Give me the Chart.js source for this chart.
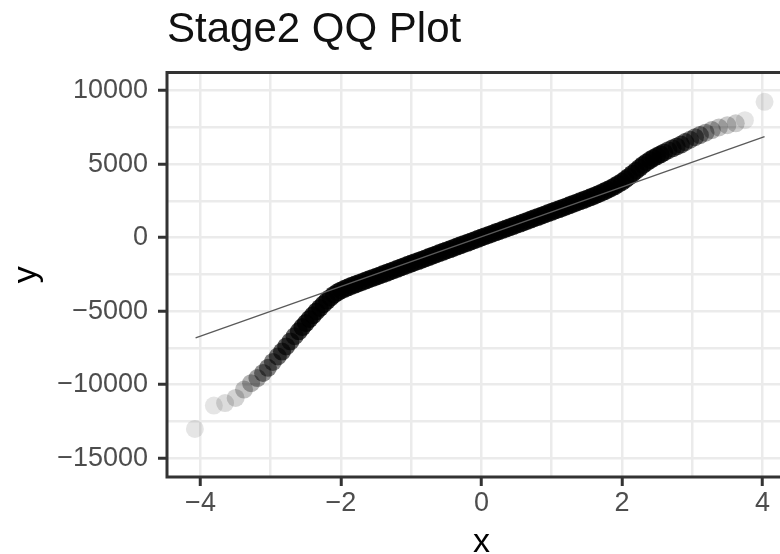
<!DOCTYPE html>
<html>
<head>
<meta charset="utf-8">
<title>Stage2 QQ Plot</title>
<script src="https://cdn.jsdelivr.net/npm/chart.js@4.4.1/dist/chart.umd.min.js"></script>
<style>
  body { margin: 0; background: #fff; }
  #wrap { width: 780px; height: 554px; overflow: hidden; }
</style>
</head>
<body>
<div id="wrap"><canvas id="qqChart" width="780" height="554"></canvas></div>
<script>
// theoretical quantiles (x) and sample quantiles (y), sorted
const theoretical = [
  -4.08, -3.81, -3.65, -3.50, -3.38, -3.28, -3.19, -3.11, -3.04, -2.97,
  -2.90, -2.84, -2.78, -2.72, -2.66, -2.60, -2.55, -2.50, -2.45, -2.40, -2.35,
  -2.30, -2.25, -2.20, -2.15, -2.10, -2.05, -2.00, -1.95, -1.90, -1.85,
  -1.80, -1.75, -1.70, -1.65, -1.60, -1.55, -1.50, -1.45, -1.40, -1.35,
  -1.30, -1.25, -1.20, -1.15, -1.10, -1.05, -1.00, -0.95, -0.90, -0.85,
  -0.80, -0.75, -0.70, -0.65, -0.60, -0.55, -0.50, -0.45, -0.40, -0.35,
  -0.30, -0.25, -0.20, -0.15, -0.10, -0.05, 0.00, 0.05, 0.10, 0.15,
  0.20, 0.25, 0.30, 0.35, 0.40, 0.45, 0.50, 0.55, 0.60, 0.65,
  0.70, 0.75, 0.80, 0.85, 0.90, 0.95, 1.00, 1.05, 1.10, 1.15,
  1.20, 1.25, 1.30, 1.35, 1.40, 1.45, 1.50, 1.55, 1.60, 1.65,
  1.70, 1.75, 1.80, 1.85, 1.90, 1.95, 2.00, 2.05, 2.10, 2.15,
  2.20, 2.25, 2.30,
  2.35, 2.40, 2.45, 2.50, 2.55, 2.60, 2.66, 2.72, 2.78, 2.84,
  2.90, 2.97, 3.04, 3.11, 3.19, 3.28, 3.38, 3.50, 3.62, 3.75, 4.03
];
const sample = [
  -13010, -11420, -11250, -10900, -10330, -9900, -9550, -9200, -8850, -8450,
  -8080, -7750, -7400, -7060, -6700, -6370, -6080, -5810, -5540, -5280, -5020,
  -4780, -4530, -4300, -4080, -3880, -3720, -3590, -3480, -3380, -3280,
  -3190, -3100, -3010, -2920, -2830, -2740, -2660, -2570, -2480, -2390,
  -2300, -2210, -2120, -2030, -1940, -1850, -1760, -1670, -1590, -1500,
  -1410, -1320, -1230, -1140, -1050, -960, -870, -790, -700, -610,
  -520, -430, -350, -260, -170, -80, 10, 100, 180, 270,
  360, 440, 530, 620, 700, 790, 880, 960, 1050, 1140,
  1230, 1320, 1400, 1490, 1580, 1670, 1760, 1850, 1930, 2020,
  2110, 2200, 2290, 2380, 2470, 2560, 2650, 2740, 2840, 2940,
  3040, 3150, 3260, 3380, 3510, 3650, 3800, 3970, 4150, 4350,
  4550, 4750, 4950,
  5120, 5280, 5420, 5550, 5670, 5800, 5950, 6080, 6200, 6330,
  6500, 6660, 6830, 6980, 7140, 7320, 7500, 7650, 7780, 7990, 9240
];

// reference line end points
const lineX = [-4.07, 4.03];
const lineY = [-6810, 6870];

// axis ticks: labelled ones plus the minor grid in between
const xTickLabels = [-4, -2, 0, 2, 4];
const xGrid = [-4, -3, -2, -1, 0, 1, 2, 3, 4];
const yTickLabels = [10000, 5000, 0, -5000, -10000, -15000];
const yGrid = [-15000, -12500, -10000, -7500, -5000, -2500, 0, 2500, 5000, 7500, 10000];

const xMin = -4.477;
const xMax = 4.25;

const points = theoretical.map((q, i) => ({ x: q, y: sample[i] }));
const refLine = lineX.map((q, i) => ({ x: q, y: lineY[i] }));

// points are semi transparent; where quantiles sit close together they pile up darker
function pointShade(ctx) {
  const i = ctx.dataIndex;
  const n = theoretical.length;
  const prev = i > 0 ? theoretical[i] - theoretical[i - 1] : null;
  const next = i < n - 1 ? theoretical[i + 1] - theoretical[i] : null;
  let gap;
  if (prev === null) gap = next;
  else if (next === null) gap = prev;
  else gap = (prev + next) / 2;
  const a = Math.min(0.78, Math.max(0.1, 0.007 / Math.pow(gap, 1.6)));
  return 'rgba(0,0,0,' + a.toFixed(3) + ')';
}

function fmt(v) {
  return String(v).replace('-', '\u2212');
}

const fontFamily = 'Liberation Sans, Arial, sans-serif';
const tickFont = { family: fontFamily, size: 27 };

// panel frame (top, left, bottom; the right edge runs off the canvas)
// and the x axis title, centred on the full symmetric panel
const panelFrame = {
  id: 'panelFrame',
  afterDraw(chart) {
    const { ctx, chartArea } = chart;
    const xs = chart.scales.x;
    ctx.save();
    ctx.strokeStyle = '#333333';
    ctx.lineWidth = 3;
    ctx.beginPath();
    ctx.moveTo(chartArea.right + 4, chartArea.top);
    ctx.lineTo(chartArea.left, chartArea.top);
    ctx.lineTo(chartArea.left, chartArea.bottom);
    ctx.lineTo(chartArea.right + 4, chartArea.bottom);
    ctx.stroke();

    const mid = (xs.getPixelForValue(xMin) + xs.getPixelForValue(-xMin)) / 2;
    ctx.fillStyle = '#000000';
    ctx.font = '34px ' + fontFamily;
    ctx.textAlign = 'center';
    ctx.textBaseline = 'alphabetic';
    ctx.fillText('x', mid, 552);
    ctx.restore();
  }
};

new Chart(document.getElementById('qqChart'), {
  type: 'scatter',
  data: {
    datasets: [
      {
        label: 'line',
        data: refLine,
        showLine: true,
        borderColor: '#5a5a5a',
        borderWidth: 1.3,
        pointRadius: 0
      },
      {
        label: 'sample',
        data: points,
        pointRadius: 9,
        pointBorderWidth: 0,
        pointBackgroundColor: pointShade,
        pointBorderColor: 'rgba(0,0,0,0)'
      }
    ]
  },
  options: {
    responsive: false,
    animation: false,
    layout: { padding: 0, autoPadding: false },
    plugins: {
      legend: { display: false },
      tooltip: { enabled: false },
      title: {
        display: true,
        text: 'Stage2 QQ Plot',
        align: 'start',
        fullSize: false,
        color: '#111111',
        font: { family: fontFamily, size: 42, weight: 'normal', lineHeight: 1.2 },
        padding: { top: 5, bottom: 17 }
      }
    },
    scales: {
      x: {
        type: 'linear',
        min: xMin,
        max: xMax,
        afterBuildTicks: scale => { scale.ticks = xGrid.map(v => ({ value: v })); },
        afterFit: scale => {
          scale.height = 77;
          scale.paddingLeft = 0;
          scale.paddingRight = 0;
        },
        ticks: {
          padding: 1,
          color: '#4d4d4d',
          font: tickFont,
          maxRotation: 0,
          callback: v => xTickLabels.includes(v) ? fmt(v) : ''
        },
        grid: {
          color: '#ebebeb',
          lineWidth: 2.5,
          tickLength: 9,
          tickWidth: 3,
          tickColor: c => xTickLabels.includes(c.tick && c.tick.value) ? '#333333' : 'rgba(0,0,0,0)'
        },
        border: { display: false },
        title: { display: false }
      },
      y: {
        type: 'linear',
        min: -16280,
        max: 11240,
        afterBuildTicks: scale => { scale.ticks = yGrid.map(v => ({ value: v })); },
        afterFit: scale => {
          scale.width = 167;
          scale.paddingTop = 0;
          scale.paddingBottom = 0;
        },
        ticks: {
          padding: 10,
          color: '#4d4d4d',
          font: tickFont,
          callback: v => yTickLabels.includes(v) ? fmt(v) : ''
        },
        grid: {
          color: '#ebebeb',
          lineWidth: 2.5,
          tickLength: 9,
          tickWidth: 3,
          tickColor: c => yTickLabels.includes(c.tick && c.tick.value) ? '#333333' : 'rgba(0,0,0,0)'
        },
        border: { display: false },
        title: {
          display: true,
          text: 'y',
          color: '#000000',
          font: { family: fontFamily, size: 34, lineHeight: 1 },
          padding: { top: 10, bottom: 0 }
        }
      }
    }
  },
  plugins: [panelFrame]
});
</script>
</body>
</html>
